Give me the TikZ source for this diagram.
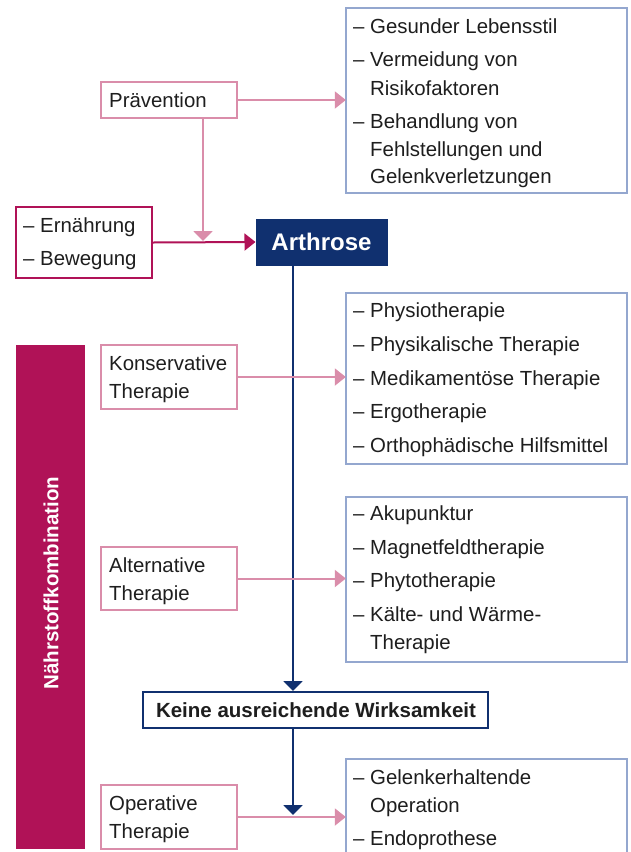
\documentclass[tikz,border=0pt]{standalone}
\usepackage{fontspec}
\setmainfont{Liberation Sans}
\usetikzlibrary{arrows.meta}
\definecolor{pinkc}{HTML}{DA8DAA}
\definecolor{magc}{HTML}{B01257}
\definecolor{navyc}{HTML}{10306F}
\definecolor{bluec}{HTML}{94A7CF}
\definecolor{textc}{HTML}{1E1E1E}
\tikzset{
  txt/.style={anchor=base west, inner sep=0pt, text=textc, font=\fontsize{20.4}{24}\selectfont},
  pinkbox/.style={draw=pinkc, line width=2pt, fill=white, inner sep=0pt},
  magbox/.style={draw=magc, line width=2pt, fill=white, inner sep=0pt},
  bluebox/.style={draw=bluec, line width=2pt, fill=white, inner sep=0pt},
  parr/.style={draw=pinkc, line width=2pt, -{Triangle[length=11pt,width=17pt]}},
  marr/.style={draw=magc, line width=2pt, -{Triangle[length=11pt,width=17pt]}},
  narr/.style={draw=navyc, line width=2pt, -{Triangle[length=10pt,width=19pt]}},
  pvarr/.style={draw=pinkc, line width=2pt, -{Triangle[length=10pt,width=19pt]}},
}
\begin{document}
\begin{tikzpicture}[x=1pt,y=-1pt]
\useasboundingbox (0,0) rectangle (630,852);
\fill[white] (0,0) rectangle (630,852);

% left bar
\fill[magc] (16,345) rectangle (85,849);
\node[rotate=90, text=white, inner sep=0pt, font=\bfseries\fontsize{20.5}{24}\selectfont] (naehr) at (51,583) {Nährstoffkombination};

% boxes
\draw[bluebox] (346,8) rectangle (627,193);
\node[inner sep=0pt, minimum width=281pt, minimum height=185pt] (b1) at (486.5,100.5) {};
\draw[bluebox] (346,293) rectangle (627,464);
\node[inner sep=0pt, minimum width=281pt, minimum height=171pt] (b2) at (486.5,378.5) {};
\draw[bluebox] (346,497) rectangle (627,662);
\node[inner sep=0pt, minimum width=281pt, minimum height=165pt] (b3) at (486.5,579.5) {};
\draw[bluebox] (346,759) rectangle (627,870);
\node[inner sep=0pt, minimum width=281pt, minimum height=111pt] (b4) at (486.5,814.5) {};

\node[pinkbox, minimum width=136pt, minimum height=36pt] (praev) at (169,100) {};
\node[magbox, minimum width=136pt, minimum height=71pt] (ern) at (84,242.5) {};
\node[draw=navyc, fill=navyc, line width=1pt, inner sep=0pt, minimum width=131pt, minimum height=46pt] (arth) at (321.5,242) {};
\node[pinkbox, minimum width=136pt, minimum height=64pt] (kons) at (169,377) {};
\node[pinkbox, minimum width=136pt, minimum height=63pt] (alt) at (169,578.5) {};
\node[draw=navyc, line width=2pt, fill=white, inner sep=0pt, minimum width=345pt, minimum height=36pt] (keine) at (315.5,710) {};
\node[pinkbox, minimum width=136pt, minimum height=64pt] (oper) at (169,817) {};

% texts
\node[txt] (tpraev) at (109,107) {Prävention};
\node[txt] (tern) at (23,232) {– Ernährung};
\node[txt] (tbew) at (23,265) {– Bewegung};
\node[anchor=base, inner sep=0pt, text=white, font=\bfseries\fontsize{24}{28}\selectfont] (tarth) at (321.5,250) {Arthrose};
\node[txt] (tkons1) at (109,370) {Konservative};
\node[txt] (tkons2) at (109,398) {Therapie};
\node[txt] (talt1) at (109,572) {Alternative};
\node[txt] (talt2) at (109,600) {Therapie};
\node[anchor=base, inner sep=0pt, text=textc, font=\bfseries\fontsize{20.5}{24}\selectfont] (tkeine) at (316,717) {Keine ausreichende Wirksamkeit};
\node[txt] (toper1) at (109,810) {Operative};
\node[txt] (toper2) at (109,838) {Therapie};

\node[txt] (a1) at (353,33) {– Gesunder Lebensstil};
\node[txt] (a2) at (353,66) {– Vermeidung von};
\node[txt] (a2b) at (370,95) {Risikofaktoren};
\node[txt] (a3) at (353,128) {– Behandlung von};
\node[txt] (a3b) at (370,156) {Fehlstellungen und};
\node[txt] (a3c) at (370,183) {Gelenkverletzungen};

\node[txt] (k1) at (353,317) {– Physiotherapie};
\node[txt] (k2) at (353,351) {– Physikalische Therapie};
\node[txt] (k3) at (353,385) {– Medikamentöse Therapie};
\node[txt] (k4) at (353,418) {– Ergotherapie};
\node[txt] (k5) at (353,452) {– Orthophädische Hilfsmittel};

\node[txt] (l1) at (353,520) {– Akupunktur};
\node[txt] (l2) at (353,554) {– Magnetfeldtherapie};
\node[txt] (l3) at (353,587) {– Phytotherapie};
\node[txt] (l4) at (353,621) {– Kälte- und Wärme-};
\node[txt] (l4b) at (370,649) {Therapie};

\node[txt] (o1) at (353,784) {– Gelenkerhaltende};
\node[txt] (o1b) at (370,812) {Operation};
\node[txt] (o2) at (353,845) {– Endoprothese};

% connectors
\coordinate (vx) at (293,0);
\coordinate (px) at (203,0);
\coordinate (ptip) at (203,241);
\coordinate (ntip) at (293,815);

\draw[parr] (praev.east) -- (praev.east -| b1.west);
\draw[pvarr] (praev.south -| px) -- (ptip);
\draw[marr] (ern.east) -- (arth.west);
\draw[narr] (arth.south -| vx) -- (keine.north -| vx);
\draw[parr] (kons.east) -- (kons.east -| b2.west);
\draw[parr] (alt.east) -- (alt.east -| b3.west);
\draw[narr] (keine.south -| vx) -- (ntip);
\draw[parr] (oper.east) -- (oper.east -| b4.west);
\end{tikzpicture}
\end{document}
